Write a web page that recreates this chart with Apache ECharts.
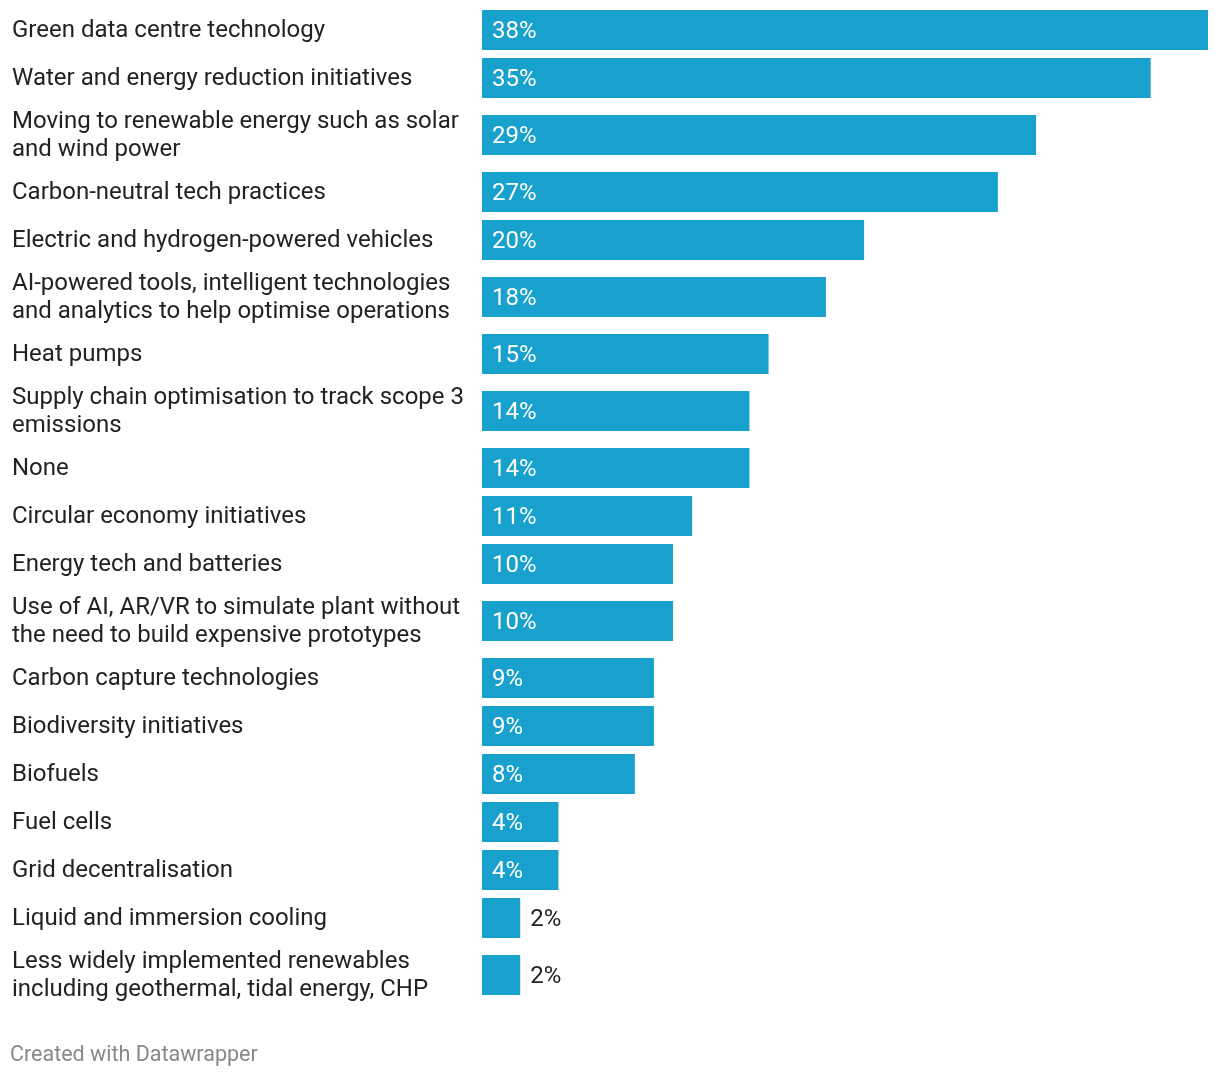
<!DOCTYPE html>
<html>
<head>
<meta charset="utf-8">
<script src="https://cdn.jsdelivr.net/npm/echarts@6/dist/echarts.min.js"></script>
<style>
html,body{margin:0;padding:0;background:#fff;}
#chart{width:1220px;height:1078px;}
</style>
</head>
<body>
<div id="chart"></div>
<script>
const categories = [
  "Green data centre technology",
  "Water and energy reduction initiatives",
  "Moving to renewable energy such as solar\nand wind power",
  "Carbon-neutral tech practices",
  "Electric and hydrogen-powered vehicles",
  "AI-powered tools, intelligent technologies\nand analytics to help optimise operations",
  "Heat pumps",
  "Supply chain optimisation to track scope 3\nemissions",
  "None",
  "Circular economy initiatives",
  "Energy tech and batteries",
  "Use of AI, AR/VR to simulate plant without\nthe need to build expensive prototypes",
  "Carbon capture technologies",
  "Biodiversity initiatives",
  "Biofuels",
  "Fuel cells",
  "Grid decentralisation",
  "Liquid and immersion cooling",
  "Less widely implemented renewables\nincluding geothermal, tidal energy, CHP"
];
const values = [38, 35, 29, 27, 20, 18, 15, 14, 14, 11, 10, 10, 9, 9, 8, 4, 4, 2, 2];
const footerText = "Created with Datawrapper";

const chart = echarts.init(document.getElementById('chart'), null, {renderer: 'canvas'});

const FONT = 'Roboto';
const BAR_COLOR = '#18a1cd';
const BAR_H = 40;
const SINGLE_SLOT = 48;
const DOUBLE_SLOT = 66;
const LEFT = 482;
const RIGHT = 12;
const MAX = 38;
const LABEL_DY = 1;

const grids = [], xAxes = [], yAxes = [], series = [];
let cursor = 6;
categories.forEach((cat, i) => {
  const lines = cat.split('\n').length;
  const slot = lines > 1 ? DOUBLE_SLOT : SINGLE_SLOT;
  const top = cursor + (slot - BAR_H) / 2;
  cursor += slot;
  const bg = 2 * i, lg = 2 * i + 1;
  // bar grid
  grids.push({left: LEFT, right: RIGHT, top: top, height: BAR_H, containLabel: false});
  xAxes.push({type: 'value', gridIndex: bg, min: 0, max: MAX, show: false});
  yAxes.push({type: 'category', gridIndex: bg, data: [cat], show: false});
  // label grid (category label, left aligned at x = 12)
  grids.push({left: LEFT, right: RIGHT, top: top + LABEL_DY, height: BAR_H, containLabel: false});
  xAxes.push({type: 'value', gridIndex: lg, min: 0, max: MAX, show: false});
  yAxes.push({
    type: 'category', gridIndex: lg, data: [cat],
    axisLine: {show: false}, axisTick: {show: false}, splitLine: {show: false},
    axisLabel: {
      margin: LEFT - 12, align: 'left', verticalAlign: 'middle',
      fontFamily: FONT, fontSize: 24, color: '#222',
      lineHeight: lines > 1 ? 27.5 : 28
    }
  });
  const v = values[i];
  const inside = v >= 3;
  series.push({
    type: 'bar', xAxisIndex: bg, yAxisIndex: bg,
    data: [v], barWidth: BAR_H,
    itemStyle: {color: BAR_COLOR},
    silent: true, animation: false,
    label: {
      show: true,
      position: inside ? 'insideLeft' : 'right',
      distance: 10,
      offset: [0, 1.5],
      formatter: '{c}%',
      fontFamily: FONT, fontSize: 24,
      color: inside ? '#ffffff' : '#222'
    }
  });
});

chart.setOption({
  animation: false,
  grid: grids,
  xAxis: xAxes,
  yAxis: yAxes,
  series: series,
  graphic: [{
    type: 'text', left: 10, top: 1045,
    style: {text: footerText, fontFamily: FONT, fontSize: 21.5, fill: '#888'}
  }]
});
</script>
</body>
</html>
